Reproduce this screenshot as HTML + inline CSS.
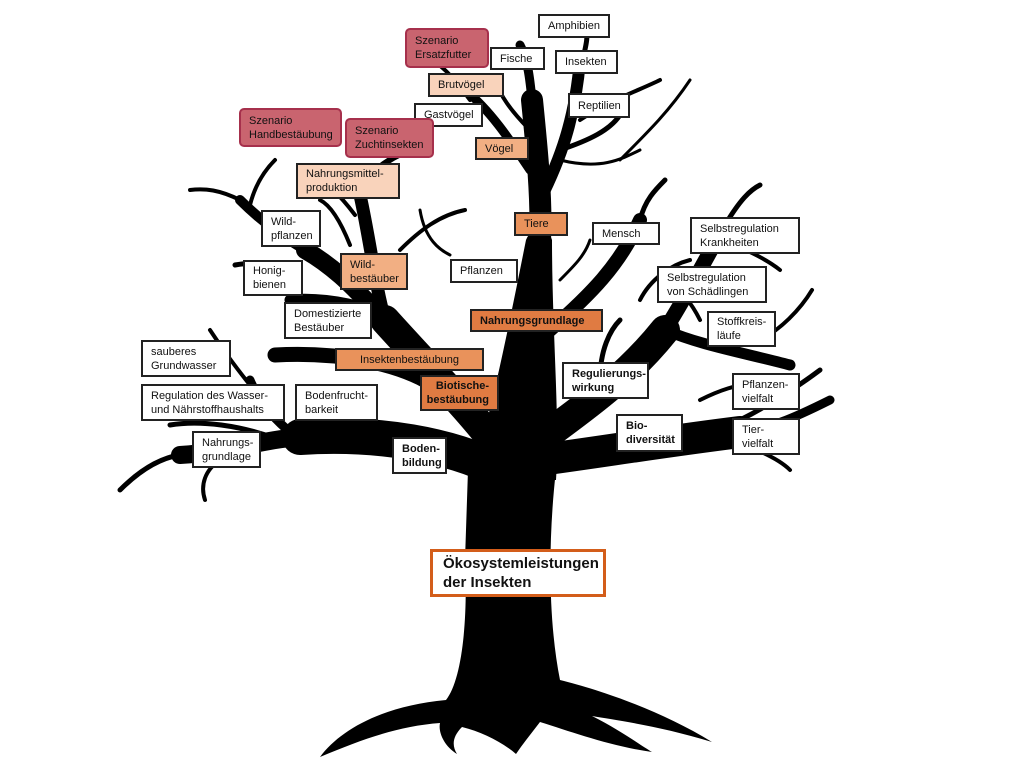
<!DOCTYPE html>
<html><head><meta charset="utf-8">
<style>
html,body{margin:0;padding:0;background:#fff;}
#c{position:relative;width:1024px;height:768px;overflow:hidden;font-family:"Liberation Sans",sans-serif;}
svg{position:absolute;left:0;top:0;}
.b{position:absolute;box-sizing:border-box;border:2px solid #222;background:#fff;font-size:11px;line-height:14px;color:#111;padding:0 8px;display:flex;align-items:center;white-space:nowrap;}
.s{background:#c9646f;border:2px solid #a6304c;border-radius:5px;}
.p1{background:#f9d3bb;}
.p2{background:#f2af83;}
.p3{background:#e9925b;}
.p4{background:#e07b42;}
.bd{font-weight:bold;}
</style></head><body><div id="c">
<svg width="1024" height="768" viewBox="0 0 1024 768">
<g fill="#000">
<path d="M468,470 L556,470 C548,540 548,620 560,680 C600,690 660,710 712,742 C660,726 615,720 592,716 C620,730 640,745 652,752 C610,746 572,732 540,722 C530,735 522,745 516,754 C502,742 482,732 462,727 C452,737 452,746 457,754 C444,746 438,732 440,723 C400,726 365,738 320,757 C340,730 382,706 446,700 C462,680 468,620 465,560 Z"/>
<path d="M470,480 C490,420 508,330 526,240 C532,225 548,225 552,240 C552,330 560,420 556,480 Z"/>
</g>
<g fill="none" stroke="#000" stroke-linecap="round">
<path d="M500,470 C450,445 380,432 300,437" stroke-width="36"/>
<path d="M300,437 C260,440 230,452 180,455" stroke-width="18"/>
<path d="M180,455 C160,458 140,470 120,490" stroke-width="5"/>
<path d="M220,460 C205,470 200,485 205,500" stroke-width="4"/>
<path d="M300,440 C280,425 260,405 250,380" stroke-width="9"/>
<path d="M250,385 C230,360 220,345 210,330" stroke-width="4"/>
<path d="M280,440 C240,425 200,420 170,425" stroke-width="5"/>
<path d="M500,450 C470,410 430,370 385,320" stroke-width="30"/>
<path d="M385,320 C360,295 340,270 305,250" stroke-width="18"/>
<path d="M305,250 C280,235 260,220 240,200" stroke-width="10"/>
<path d="M240,200 C220,190 205,188 190,190" stroke-width="4"/>
<path d="M250,205 C255,185 265,170 275,160" stroke-width="4"/>
<path d="M385,320 C375,285 370,240 360,195" stroke-width="13"/>
<path d="M360,195 C365,175 385,160 410,150" stroke-width="6"/>
<path d="M355,215 C340,195 325,180 305,170" stroke-width="4"/>
<path d="M440,390 C400,360 330,352 275,355" stroke-width="15"/>
<path d="M370,310 C340,300 310,298 290,300" stroke-width="11"/>
<path d="M300,265 C270,262 250,262 235,265" stroke-width="5"/>
<path d="M350,245 C340,220 330,205 320,200" stroke-width="4"/>
<path d="M400,250 C420,230 440,215 465,210" stroke-width="4"/>
<path d="M540,240 C542,200 537,150 532,100" stroke-width="22"/>
<path d="M532,100 C530,80 528,60 520,45" stroke-width="9"/>
<path d="M540,200 C560,160 575,120 580,60" stroke-width="12"/>
<path d="M580,70 C585,50 590,35 585,20" stroke-width="5"/>
<path d="M530,170 C510,140 490,110 465,90" stroke-width="9"/>
<path d="M470,100 C455,80 440,60 420,55" stroke-width="4"/>
<path d="M530,130 C510,110 500,95 495,80" stroke-width="4"/>
<path d="M560,150 C590,140 610,130 620,115" stroke-width="5"/>
<path d="M580,120 C610,100 640,90 660,80" stroke-width="4"/>
<path d="M560,160 C600,170 620,160 640,150" stroke-width="3"/>
<path d="M540,440 C580,410 625,380 665,330" stroke-width="30"/>
<path d="M665,330 C690,290 705,260 725,225" stroke-width="15"/>
<path d="M725,225 C740,200 750,190 760,185" stroke-width="5"/>
<path d="M550,330 C590,295 620,265 640,220" stroke-width="14"/>
<path d="M640,220 C645,200 655,190 665,180" stroke-width="5"/>
<path d="M665,330 C700,345 740,352 790,365" stroke-width="11"/>
<path d="M760,340 C780,330 800,310 812,290" stroke-width="4"/>
<path d="M540,460 C600,452 660,442 740,432" stroke-width="32"/>
<path d="M740,432 C770,428 790,420 830,400" stroke-width="9"/>
<path d="M740,420 C770,405 800,385 820,370" stroke-width="5"/>
<path d="M730,440 C760,450 780,460 790,470" stroke-width="4"/>
<path d="M700,400 C720,390 735,385 760,382" stroke-width="4"/>
<path d="M600,380 C600,350 610,330 620,320" stroke-width="5"/>
<path d="M700,320 C690,300 680,290 670,285" stroke-width="4"/>
<path d="M720,240 C750,250 770,262 780,270" stroke-width="4"/>
<path d="M640,300 C650,280 670,265 690,260" stroke-width="4"/>
<path d="M560,280 C575,265 585,255 590,240" stroke-width="3"/>
<path d="M420,210 C425,240 440,250 450,255" stroke-width="3"/>
<path d="M620,160 C650,130 670,110 690,80" stroke-width="3"/>
</g>
</svg>

<div class="b" style="left:538px;top:14px;width:72px;height:24px;">Amphibien</div>
<div class="b" style="left:490px;top:47px;width:55px;height:23px;">Fische</div>
<div class="b" style="left:555px;top:50px;width:63px;height:24px;">Insekten</div>
<div class="b s" style="left:405px;top:28px;width:84px;height:40px;">Szenario<br>Ersatzfutter</div>
<div class="b p1" style="left:428px;top:73px;width:76px;height:24px;">Brutvögel</div>
<div class="b" style="left:568px;top:93px;width:62px;height:25px;">Reptilien</div>
<div class="b" style="left:414px;top:103px;width:69px;height:24px;">Gastvögel</div>
<div class="b s" style="left:239px;top:108px;width:103px;height:39px;">Szenario<br>Handbestäubung</div>
<div class="b s" style="left:345px;top:118px;width:89px;height:40px;">Szenario<br>Zuchtinsekten</div>
<div class="b p2" style="left:475px;top:137px;width:54px;height:23px;">Vögel</div>
<div class="b p1" style="left:296px;top:163px;width:104px;height:36px;">Nahrungsmittel-<br>produktion</div>
<div class="b" style="left:261px;top:210px;width:60px;height:37px;">Wild-<br>pflanzen</div>
<div class="b p3" style="left:514px;top:212px;width:54px;height:24px;">Tiere</div>
<div class="b" style="left:592px;top:222px;width:68px;height:23px;">Mensch</div>
<div class="b" style="left:690px;top:217px;width:110px;height:37px;">Selbstregulation<br>Krankheiten</div>
<div class="b p2" style="left:340px;top:253px;width:68px;height:37px;">Wild-<br>bestäuber</div>
<div class="b" style="left:243px;top:260px;width:60px;height:36px;">Honig-<br>bienen</div>
<div class="b" style="left:450px;top:259px;width:68px;height:24px;">Pflanzen</div>
<div class="b" style="left:657px;top:266px;width:110px;height:37px;">Selbstregulation<br>von Schädlingen</div>
<div class="b" style="left:284px;top:302px;width:88px;height:37px;">Domestizierte<br>Bestäuber</div>
<div class="b p4 bd" style="left:470px;top:309px;width:133px;height:23px;">Nahrungsgrundlage</div>
<div class="b" style="left:707px;top:311px;width:69px;height:36px;">Stoffkreis-<br>läufe</div>
<div class="b" style="left:141px;top:340px;width:90px;height:37px;">sauberes<br>Grundwasser</div>
<div class="b p3" style="left:335px;top:348px;width:149px;height:23px;justify-content:center;">Insektenbestäubung</div>
<div class="b bd" style="left:562px;top:362px;width:87px;height:37px;">Regulierungs-<br>wirkung</div>
<div class="b p4 bd" style="left:420px;top:375px;width:79px;height:36px;justify-content:flex-end;text-align:right;">Biotische-<br>bestäubung</div>
<div class="b" style="left:141px;top:384px;width:144px;height:37px;">Regulation des Wasser-<br>und Nährstoffhaushalts</div>
<div class="b" style="left:295px;top:384px;width:83px;height:37px;">Bodenfrucht-<br>barkeit</div>
<div class="b" style="left:732px;top:373px;width:68px;height:37px;">Pflanzen-<br>vielfalt</div>
<div class="b bd" style="left:616px;top:414px;width:67px;height:38px;">Bio-<br>diversität</div>
<div class="b" style="left:732px;top:418px;width:68px;height:37px;">Tier-<br>vielfalt</div>
<div class="b" style="left:192px;top:431px;width:69px;height:37px;">Nahrungs-<br>grundlage</div>
<div class="b bd" style="left:392px;top:437px;width:55px;height:37px;">Boden-<br>bildung</div>
<div class="b bd" style="left:430px;top:549px;width:176px;height:48px;border:3px solid #d35d1a;font-size:15px;line-height:19px;padding:0 10px;">Ökosystemleistungen<br>der Insekten</div>
</div></body></html>
